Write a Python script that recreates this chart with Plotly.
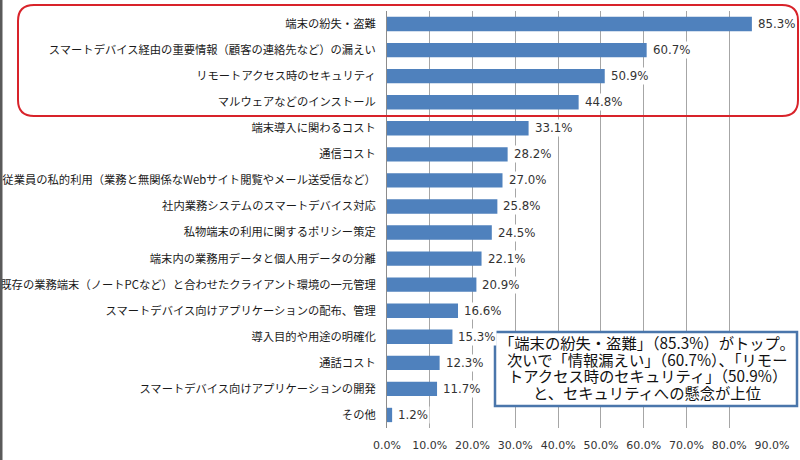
import plotly.graph_objects as go

categories = [
    "端末の紛失・盗難",
    "スマートデバイス経由の重要情報（顧客の連絡先など）の漏えい",
    "リモートアクセス時のセキュリティ",
    "マルウェアなどのインストール",
    "端末導入に関わるコスト",
    "通信コスト",
    "従業員の私的利用（業務と無関係なWebサイト閲覧やメール送受信など）",
    "社内業務システムのスマートデバイス対応",
    "私物端末の利用に関するポリシー策定",
    "端末内の業務用データと個人用データの分離",
    "既存の業務端末（ノートPCなど）と合わせたクライアント環境の一元管理",
    "スマートデバイス向けアプリケーションの配布、管理",
    "導入目的や用途の明確化",
    "通話コスト",
    "スマートデバイス向けアプリケーションの開発",
    "その他",
]
values = [85.3, 60.7, 50.9, 44.8, 33.1, 28.2, 27.0, 25.8, 24.5, 22.1, 20.9, 16.6, 15.3, 12.3, 11.7, 1.2]
tick_values = [0, 10, 20, 30, 40, 50, 60, 70, 80, 90]
note_lines = [
    "「端末の紛失・盗難」（85.3%）がトップ。",
    "次いで「情報漏えい」（60.7%）、「リモー",
    "トアクセス時のセキュリティ」（50.9%）",
    "と、セキュリティへの懸念が上位",
]

W, H = 800, 460
L, R, T, B = 387, 772, 11, 428


def px(x):
    return (x - L) / (R - L)


def py(y):
    return (B - y) / (B - T)


JP = "Noto Sans CJK JP"
NUM = "DejaVu Sans"

fig = go.Figure()
fig.add_trace(go.Bar(
    x=values, y=categories, orientation="h",
    marker=dict(color="#4f81bd", line=dict(width=0)),
    width=0.55, hoverinfo="skip",
))

annotations = []
for c, v in zip(categories, values):
    annotations.append(dict(
        x=v, y=c, xref="x", yref="y", text=f"{v:.1f}%", showarrow=False,
        xanchor="left", yanchor="middle", xshift=4, bgcolor="white",
        borderpad=1, font=dict(family=NUM, size=11.8, color="#333333"),
    ))

# note box lines
line_ys = [342, 358.5, 375, 391.5]
for t, yy in zip(note_lines, line_ys):
    annotations.append(dict(
        x=px(647), y=py(yy), xref="paper", yref="paper", text=t,
        showarrow=False, xanchor="center", yanchor="middle",
        font=dict(family=JP, size=15.3, color="#111111"),
    ))

shapes = []
# left frame line
shapes.append(dict(type="line", xref="paper", yref="paper",
                   x0=px(1), x1=px(1), y0=py(0), y1=py(460),
                   line=dict(color="#5a5a5a", width=3), layer="above"))
# note box
shapes.append(dict(type="rect", xref="paper", yref="paper",
                   x0=px(495), x1=px(797), y0=py(332), y1=py(406),
                   fillcolor="white", line=dict(color="#4a76ab", width=2.5),
                   layer="above"))
# red rounded rectangle
x0, x1, y0, y1, r = 18, 798, 5, 116, 16


def P(x, y):
    return f"{px(x):.5f},{py(y):.5f}"


path = (
    f"M {P(x0 + r, y0)} L {P(x1 - r, y0)} Q {P(x1, y0)} {P(x1, y0 + r)} "
    f"L {P(x1, y1 - r)} Q {P(x1, y1)} {P(x1 - r, y1)} "
    f"L {P(x0 + r, y1)} Q {P(x0, y1)} {P(x0, y1 - r)} "
    f"L {P(x0, y0 + r)} Q {P(x0, y0)} {P(x0 + r, y0)} Z"
)
shapes.append(dict(type="path", xref="paper", yref="paper", path=path,
                   line=dict(color="#d8232a", width=2), layer="above"))

fig.update_layout(
    template="none",
    width=W, height=H,
    margin=dict(l=L, r=W - R, t=T, b=H - B, pad=0, autoexpand=False),
    paper_bgcolor="white", plot_bgcolor="white",
    showlegend=False, bargap=0.45,
    annotations=annotations, shapes=shapes,
    xaxis=dict(
        range=[0, 90], tickvals=tick_values,
        ticktext=[f"{v:.1f}%" for v in tick_values],
        showgrid=True, gridcolor="#a6a6a6", gridwidth=1,
        zeroline=False, showline=False, ticks="", automargin=False,
        tickfont=dict(family=NUM, size=11, color="#333333"),
        ticklabelstandoff=9, fixedrange=True,
    ),
    yaxis=dict(
        autorange="reversed", showgrid=False, zeroline=False,
        showline=True, linecolor="#8c8c8c", linewidth=1, ticks="",
        automargin=False,
        tickfont=dict(family=JP, size=11.3, color="#1a1a1a"),
        ticklabelstandoff=8, fixedrange=True,
    ),
)

fig.write_html("out.html", config={"displayModeBar": False},
               post_script="document.body.style.margin='0px';")
